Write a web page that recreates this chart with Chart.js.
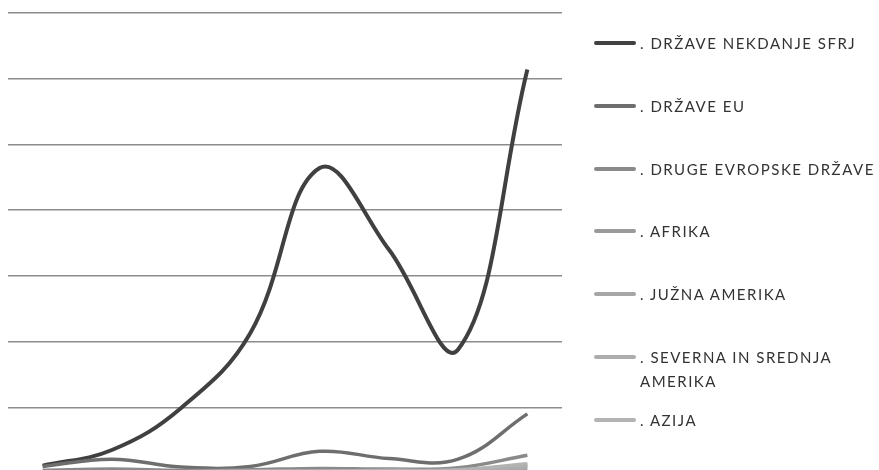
<!DOCTYPE html>
<html>
<head>
<meta charset="utf-8">
<script src="https://cdn.jsdelivr.net/npm/chart.js@4"></script>
<style>
  html, body { margin: 0; padding: 0; background: #fff; overflow: hidden; }
  #wrap { position: absolute; left: 0; top: 0; width: 879px; height: 480px; }
  #legend { position: absolute; left: 594px; top: 11px; font-family: Lato, "Open Sans", sans-serif; font-size: 15px; color: #333; letter-spacing: 1.5px; }
  .item { position: relative; height: 62.8px; }
  .swatch { position: absolute; left: 0; top: 30px; width: 42px; height: 4px; border-radius: 2px; }
  .label { position: absolute; left: 46px; top: 20px; line-height: 24px; white-space: nowrap; }
</style>
</head>
<body>
<div id="wrap"><canvas id="chart"></canvas></div>
<div id="legend"></div>
<script>
// osem zaporednih obdobij (oznake na osi niso vidne)
const obdobja = ['1', '2', '3', '4', '5', '6', '7', '8'];

const sfrj = [55, 175, 495, 1065, 2320, 1700, 940, 3070];
const eu = [50, 105, 45, 50, 165, 110, 105, 450];
const drugeEvropske = [20, 30, 20, 25, 35, 30, 40, 135];
const afrika = [5, 10, 5, 5, 10, 10, 15, 60];
const juznaAmerika = [5, 5, 5, 5, 10, 5, 10, 30];
const severnaAmerika = [10, 10, 5, 10, 10, 10, 15, 45];
const azija = [10, 10, 10, 15, 15, 20, 25, 70];

const imena = ['. DRŽAVE NEKDANJE SFRJ', '. DRŽAVE EU', '. DRUGE EVROPSKE DRŽAVE', '. AFRIKA',
  '. JUŽNA AMERIKA', '. SEVERNA IN SREDNJA\nAMERIKA', '. AZIJA'];
const barve = ['#404040', '#6e6e6e', '#8a8a8a', '#9a9a9a', '#a6a6a6', '#adadad', '#b3b3b3'];
const serije = [sfrj, eu, drugeEvropske, afrika, juznaAmerika, severnaAmerika, azija];

const datasets = serije.map((vrednosti, i) => ({
  label: imena[i],
  data: vrednosti,
  borderColor: barve[i],
  backgroundColor: barve[i],
  borderWidth: i === 0 ? 4 : 3.5,
  pointRadius: 0,
  tension: 0.4,
  fill: false
})).reverse(); // temnejše črte na vrhu

new Chart(document.getElementById('chart'), {
  type: 'line',
  data: { labels: obdobja, datasets: datasets },
  options: {
    responsive: true,
    maintainAspectRatio: false,
    animation: false,
    layout: { padding: { left: 8, right: 317, top: 13, bottom: 7 } },
    plugins: { legend: { display: false }, tooltip: { enabled: false } },
    scales: {
      x: { display: false, offset: true },
      y: {
        min: 0, max: 3500,
        ticks: { display: false, stepSize: 500 },
        border: { display: false },
        grid: { color: '#8c8c8c', lineWidth: 1.5, drawTicks: false }
      }
    }
  }
});

// legenda desno
const legend = document.getElementById('legend');
imena.forEach((ime, i) => {
  const item = document.createElement('div');
  item.className = 'item';
  const sw = document.createElement('div');
  sw.className = 'swatch';
  sw.style.background = barve[i];
  const lab = document.createElement('div');
  lab.className = 'label';
  lab.innerText = ime;
  item.appendChild(sw);
  item.appendChild(lab);
  legend.appendChild(item);
});
</script>
</body>
</html>
